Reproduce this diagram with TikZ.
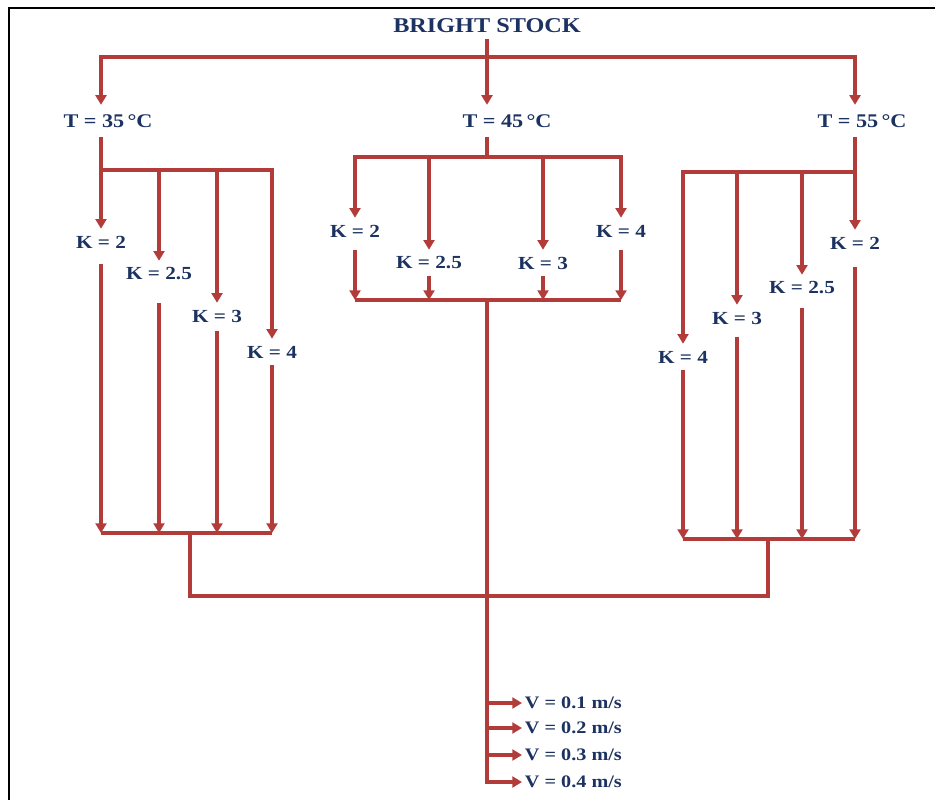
\documentclass[tikz,border=0pt]{standalone}
\usepackage{fontspec}
\setmainfont[FakeStretch=1.15]{Liberation Serif}
\usetikzlibrary{arrows.meta}
\definecolor{linered}{RGB}{178,60,58}
\definecolor{textblue}{RGB}{28,50,96}

\begin{document}
\begin{tikzpicture}[
  x=0.02cm, y=-0.02cm,
  ln/.style={draw=linered, line width=1.9pt},
  arr/.style={ln, -{Triangle[length=5.5pt,width=6.2pt]}},
  ttl/.style={font=\fontsize{12}{14}\selectfont\bfseries, text=textblue, inner sep=3pt},
  tlbl/.style={font=\fontsize{11}{13}\selectfont\bfseries, text=textblue, minimum height=18pt, inner sep=1pt},
  klbl/.style={font=\fontsize{10.5}{12}\selectfont\bfseries, text=textblue, minimum height=14.7pt, inner sep=1pt},
  vlbl/.style={font=\fontsize{10}{12}\selectfont\bfseries, text=textblue, anchor=west, inner sep=1.5pt}
]
  \useasboundingbox (0,0) rectangle (935,800);
  \draw[black, line width=1.4pt] (9,800) -- (9,8) -- (935,8);

  \node[ttl] (bs) at (487,26) {BRIGHT STOCK};
  \coordinate (top) at (487,57);

  \node[tlbl] (t35) at (108,121) {T = 35\,°C};
  \node[tlbl] (t45) at (507,121) {T = 45\,°C};
  \node[tlbl] (t55) at (862,121) {T = 55\,°C};

  \draw[ln] (bs) -- (top);
  \draw[arr] (top) -- (top |- t45.north);
  \draw[arr] (top) -| (t35.north -| 101,0);
  \draw[arr] (top) -| (t55.north -| 855,0);

  % left branch
  \coordinate (lt) at (101,170);
  \coordinate (lb) at (190,533);
  \node[klbl] (ka1) at (101,242) {K = 2};
  \node[klbl] (ka2) at (159,274) {K = 2.5};
  \node[klbl] (ka3) at (217,316) {K = 3};
  \node[klbl] (ka4) at (272,352) {K = 4};
  \draw[ln] (t35.south -| lt) -- (lt);
  \draw[arr] (lt) -- (ka1);
  \draw[arr] (lt) -| (ka2);
  \draw[arr] (lt) -| (ka3);
  \draw[arr] (lt) -| (ka4);
  \draw[arr] ([yshift=-5pt]ka1.south) -- (ka1 |- lb);
  \draw[arr] ([yshift=-9pt]ka2.south) -- (ka2 |- lb);
  \draw[arr] ([yshift=-1pt]ka3.south) -- (ka3 |- lb);
  \draw[arr] (ka4) -- (ka4 |- lb);
  \draw[ln] (ka1 |- lb) -- (ka4 |- lb);

  % middle branch
  \coordinate (mt) at (487,157);
  \coordinate (mb) at (487,300);
  \node[klbl] (kb1) at (355,231) {K = 2};
  \node[klbl] (kb2) at (429,263) {K = 2.5};
  \node[klbl] (kb3) at (543,263) {K = 3};
  \node[klbl] (kb4) at (621,231) {K = 4};
  \draw[ln] (t45.south -| mt) -- (mt);
  \draw[arr] (mt) -| (kb1);
  \draw[arr] (mt) -| (kb2);
  \draw[arr] (mt) -| (kb3);
  \draw[arr] (mt) -| (kb4);
  \draw[arr] ([yshift=-3pt]kb1.south) -- (kb1 |- mb);
  \draw[arr] (kb2) -- (kb2 |- mb);
  \draw[arr] (kb3) -- (kb3 |- mb);
  \draw[arr] ([yshift=-3pt]kb4.south) -- (kb4 |- mb);
  \draw[ln] (kb1 |- mb) -- (kb4 |- mb);

  % right branch
  \coordinate (rt) at (855,172);
  \coordinate (rb) at (768,539);
  \node[klbl] (kc1) at (855,243) {K = 2};
  \node[klbl] (kc2) at (802,288) {K = 2.5};
  \node[klbl] (kc3) at (737,318) {K = 3};
  \node[klbl] (kc4) at (683,357) {K = 4};
  \draw[ln] (t55.south -| rt) -- (rt);
  \draw[arr] (rt) -- (kc1);
  \draw[arr] (rt) -| (kc2);
  \draw[arr] (rt) -| (kc3);
  \draw[arr] (rt) -| (kc4);
  \draw[arr] ([yshift=-6pt]kc1.south) -- (kc1 |- rb);
  \draw[arr] ([yshift=-4pt]kc2.south) -- (kc2 |- rb);
  \draw[arr] ([yshift=-3pt]kc3.south) -- (kc3 |- rb);
  \draw[arr] (kc4) -- (kc4 |- rb);
  \draw[ln] (kc4 |- rb) -- (kc1 |- rb);

  % joining and velocities
  \coordinate (mid) at (487,596);
  \draw[ln] (lb) |- (mid) -| (rb);
  \node[vlbl] (v1) at (522,703) {V = 0.1 m/s};
  \node[vlbl] (v2) at (522,728) {V = 0.2 m/s};
  \node[vlbl] (v3) at (522,755) {V = 0.3 m/s};
  \node[vlbl] (v4) at (522,782) {V = 0.4 m/s};
  \draw[arr] (mb) |- (v4);
  \draw[arr] (mb |- v1) -- (v1);
  \draw[arr] (mb |- v2) -- (v2);
  \draw[arr] (mb |- v3) -- (v3);
\end{tikzpicture}
\end{document}
